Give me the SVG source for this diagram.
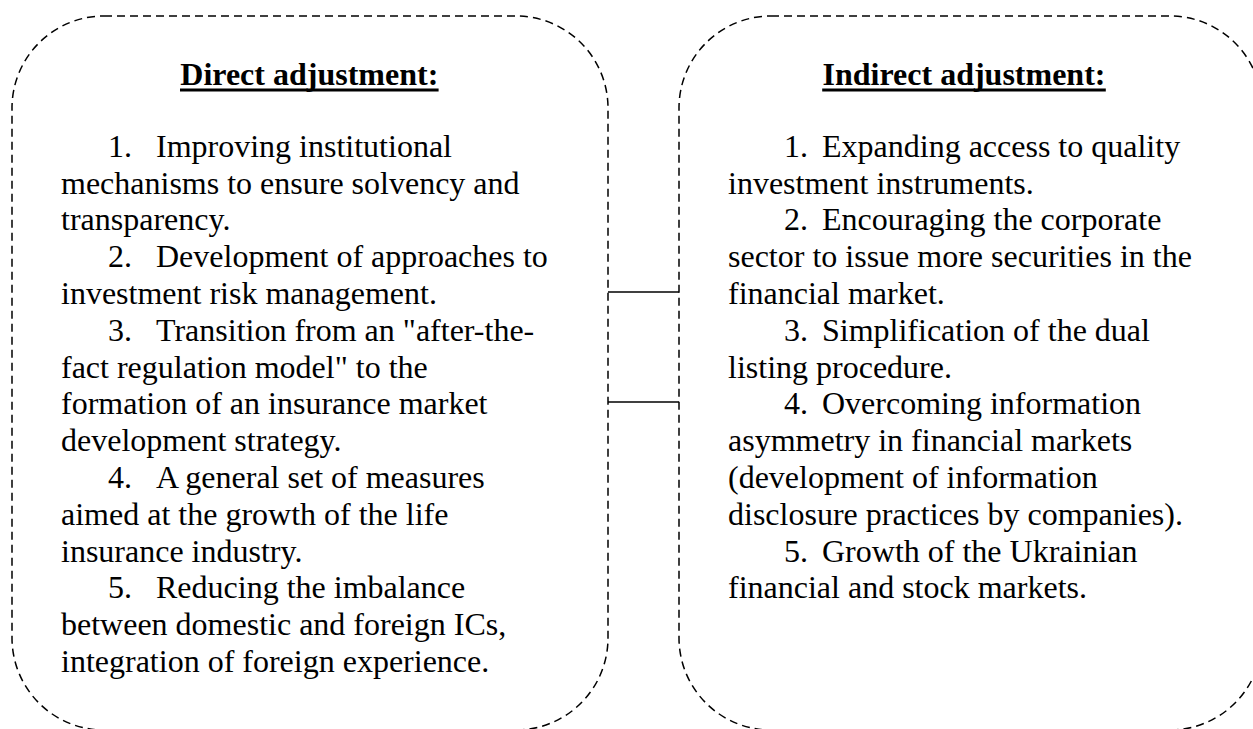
<svg xmlns="http://www.w3.org/2000/svg" width="1253" height="729" viewBox="0 0 1253 729">
  <style>
    .box { fill: none; stroke: #000; stroke-width: 1.5; stroke-dasharray: 8 5; }
    .title { font-family: "Liberation Serif", "Times New Roman", serif; font-size: 32px; font-weight: bold; fill: #000; text-anchor: middle; }
    .uline { stroke: #000; stroke-width: 3; }
    .body { font-family: "Liberation Serif", "Times New Roman", serif; font-size: 32px; fill: #000; }
    .conn { stroke: #000; stroke-width: 1.7; fill: none; }
  </style>
  <rect width="1253" height="729" fill="#fff"/>

  <g id="connectors">
    <line class="conn" x1="608" y1="292" x2="679" y2="292"/>
    <line class="conn" x1="608" y1="402" x2="679" y2="402"/>
  </g>

  <g id="direct-adjustment">
    <rect class="box" x="12" y="16" width="596" height="714" rx="92" ry="92"/>
    <text class="title" x="309.3" y="85">Direct adjustment:</text>
    <line class="uline" x1="180" y1="90" x2="438.6" y2="90"/>
    <text class="body">
      <tspan x="108" y="156.7">1.</tspan><tspan x="156" y="156.7">Improving institutional</tspan>
      <tspan x="61" y="193.5">mechanisms to ensure solvency and</tspan>
      <tspan x="61" y="230.3">transparency.</tspan>
      <tspan x="108" y="267.1">2.</tspan><tspan x="156" y="267.1">Development of approaches to</tspan>
      <tspan x="61" y="303.9">investment risk management.</tspan>
      <tspan x="108" y="340.7">3.</tspan><tspan x="156" y="340.7">Transition from an &quot;after-the-</tspan>
      <tspan x="61" y="377.5">fact regulation model&quot; to the</tspan>
      <tspan x="61" y="414.3">formation of an insurance market</tspan>
      <tspan x="61" y="451.1">development strategy.</tspan>
      <tspan x="108" y="487.9">4.</tspan><tspan x="156" y="487.9">A general set of measures</tspan>
      <tspan x="61" y="524.7">aimed at the growth of the life</tspan>
      <tspan x="61" y="561.5">insurance industry.</tspan>
      <tspan x="108" y="598.3">5.</tspan><tspan x="156" y="598.3">Reducing the imbalance</tspan>
      <tspan x="61" y="635.1">between domestic and foreign ICs,</tspan>
      <tspan x="61" y="671.9">integration of foreign experience.</tspan>
    </text>
  </g>

  <g id="indirect-adjustment">
    <rect class="box" x="679" y="16" width="583" height="714" rx="92" ry="92"/>
    <text class="title" x="964" y="85">Indirect adjustment:</text>
    <line class="uline" x1="822.2" y1="90" x2="1105.8" y2="90"/>
    <text class="body">
      <tspan x="784" y="156.7">1.</tspan><tspan x="822" y="156.7">Expanding access to quality</tspan>
      <tspan x="728" y="193.5">investment instruments.</tspan>
      <tspan x="784" y="230.3">2.</tspan><tspan x="822" y="230.3">Encouraging the corporate</tspan>
      <tspan x="728" y="267.1">sector to issue more securities in the</tspan>
      <tspan x="728" y="303.9">financial market.</tspan>
      <tspan x="784" y="340.7">3.</tspan><tspan x="822" y="340.7">Simplification of the dual</tspan>
      <tspan x="728" y="377.5">listing procedure.</tspan>
      <tspan x="784" y="414.3">4.</tspan><tspan x="822" y="414.3">Overcoming information</tspan>
      <tspan x="728" y="451.1">asymmetry in financial markets</tspan>
      <tspan x="728" y="487.9">(development of information</tspan>
      <tspan x="728" y="524.7">disclosure practices by companies).</tspan>
      <tspan x="784" y="561.5">5.</tspan><tspan x="822" y="561.5">Growth of the Ukrainian</tspan>
      <tspan x="728" y="598.3">financial and stock markets.</tspan>
    </text>
  </g>
</svg>
